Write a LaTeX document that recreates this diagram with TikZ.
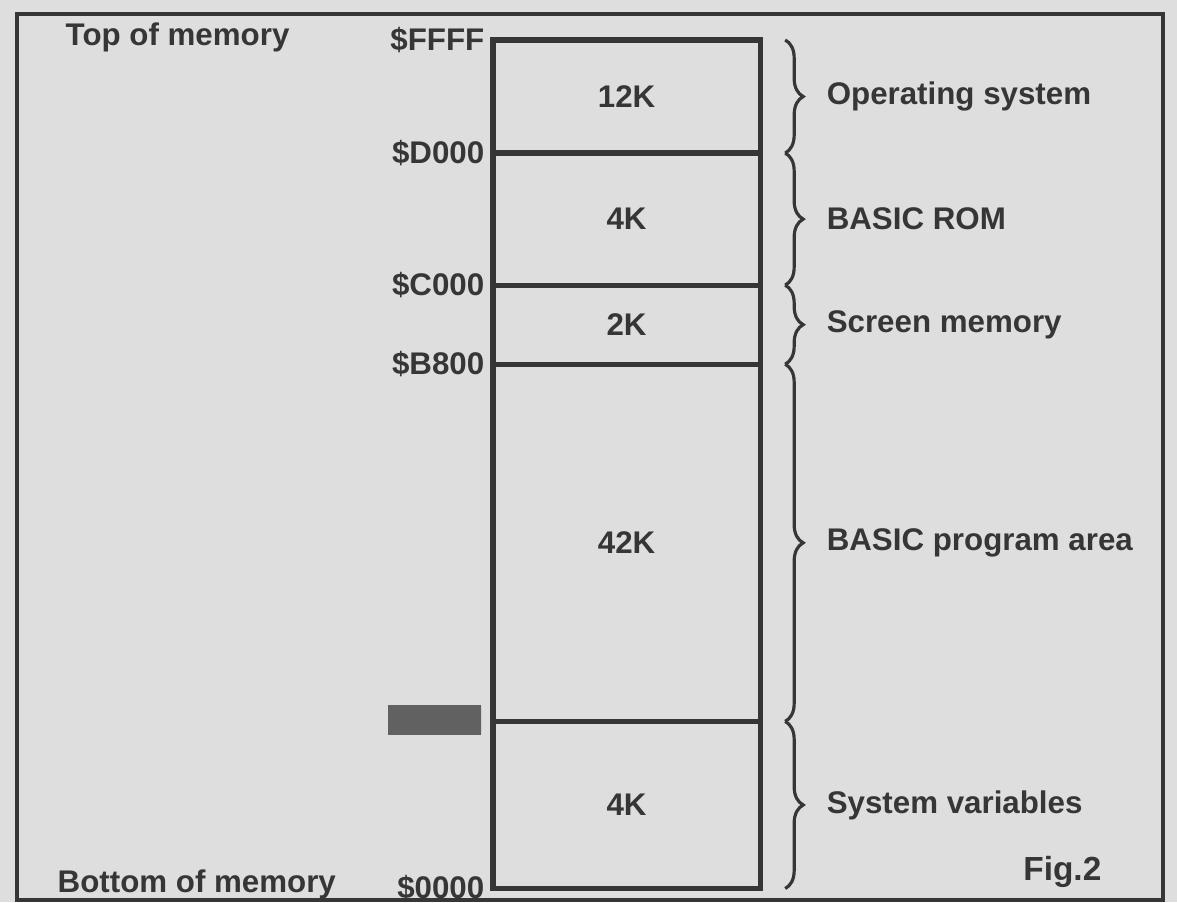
\documentclass[tikz,border=0pt]{standalone}
\usepackage{fontspec}
\setmainfont{Liberation Sans}
\usepackage{tikz}
\usetikzlibrary{decorations.pathreplacing}
\usetikzlibrary{positioning}

\definecolor{paper}{HTML}{DEDEDE}
\definecolor{ink}{HTML}{363636}

\tikzset{
  section/.style={draw=ink, line width=1.5pt, minimum width=2.67cm, anchor=north west, inner sep=0pt, outer sep=0pt, text=ink},
  addr/.style={anchor=east, inner sep=0pt, text=ink},
  mapbrace/.style={draw=ink, line width=0.9pt, decorate, decoration={brace, amplitude=0.18cm}},
  area/.style={anchor=west, inner sep=0pt, text=ink},
}

\begin{document}
\begin{tikzpicture}[x=0.01cm, y=-0.01cm, font=\fontsize{8.9}{10}\selectfont\bfseries]
\fill[paper] (0,0) rectangle (1177,902);
\useasboundingbox (0,0) rectangle (1177,902);
\draw[ink, line width=1pt] (17,14) rectangle (1163,900);

% the memory map, top of memory first
\node[section, minimum height=1.13cm] (os) at (493,40) {12K};
\node[section, minimum height=1.32cm] (rom) at (os.south west) {4K};
\node[section, minimum height=0.79cm] (scr) at (rom.south west) {2K};
\node[section, minimum height=3.57cm] (prog) at (scr.south west) {42K};
\node[section, minimum height=1.67cm] (vars) at (prog.south west) {4K};

% addresses on the left
\node[addr] (aFFFF) at ([xshift=-0.08cm]os.north west) {\$FFFF};
\node[addr] (aD000) at ([xshift=-0.08cm]os.south west) {\$D000};
\node[addr] (aC000) at ([xshift=-0.08cm]rom.south west) {\$C000};
\node[addr] (aB800) at ([xshift=-0.08cm]scr.south west) {\$B800};
\node[addr] (a0000) at ([xshift=-0.08cm]vars.south west) {\$0000};
\shade[left color=black!62, middle color=black!38, right color=black!62] (388,705) rectangle (481,734);

\node[area] (topmem) at (65,37) {Top of memory};
\node[area] (botmem) at (57,884) {Bottom of memory};

% braces and what each area holds
\draw[mapbrace] ([xshift=0.25cm]os.north east) -- ([xshift=0.25cm]os.south east)
  node[area, midway, right=0.4cm] (osname) {Operating system};
\draw[mapbrace] ([xshift=0.25cm]rom.north east) -- ([xshift=0.25cm]rom.south east)
  node[area, midway, right=0.4cm] (romname) {BASIC ROM};
\draw[mapbrace] ([xshift=0.25cm]scr.north east) -- ([xshift=0.25cm]scr.south east)
  node[area, midway, right=0.4cm] (scrname) {Screen memory};
\draw[mapbrace] ([xshift=0.25cm]prog.north east) -- ([xshift=0.25cm]prog.south east)
  node[area, midway, right=0.4cm] (progname) {BASIC program area};
\draw[mapbrace] ([xshift=0.25cm]vars.north east) -- ([xshift=0.25cm]vars.south east)
  node[area, midway, right=0.4cm] (varsname) {System variables};

\node[addr, font=\fontsize{9.5}{11}\selectfont\bfseries] (fig) at (1102,872) {Fig.2};
\end{tikzpicture}
\end{document}
